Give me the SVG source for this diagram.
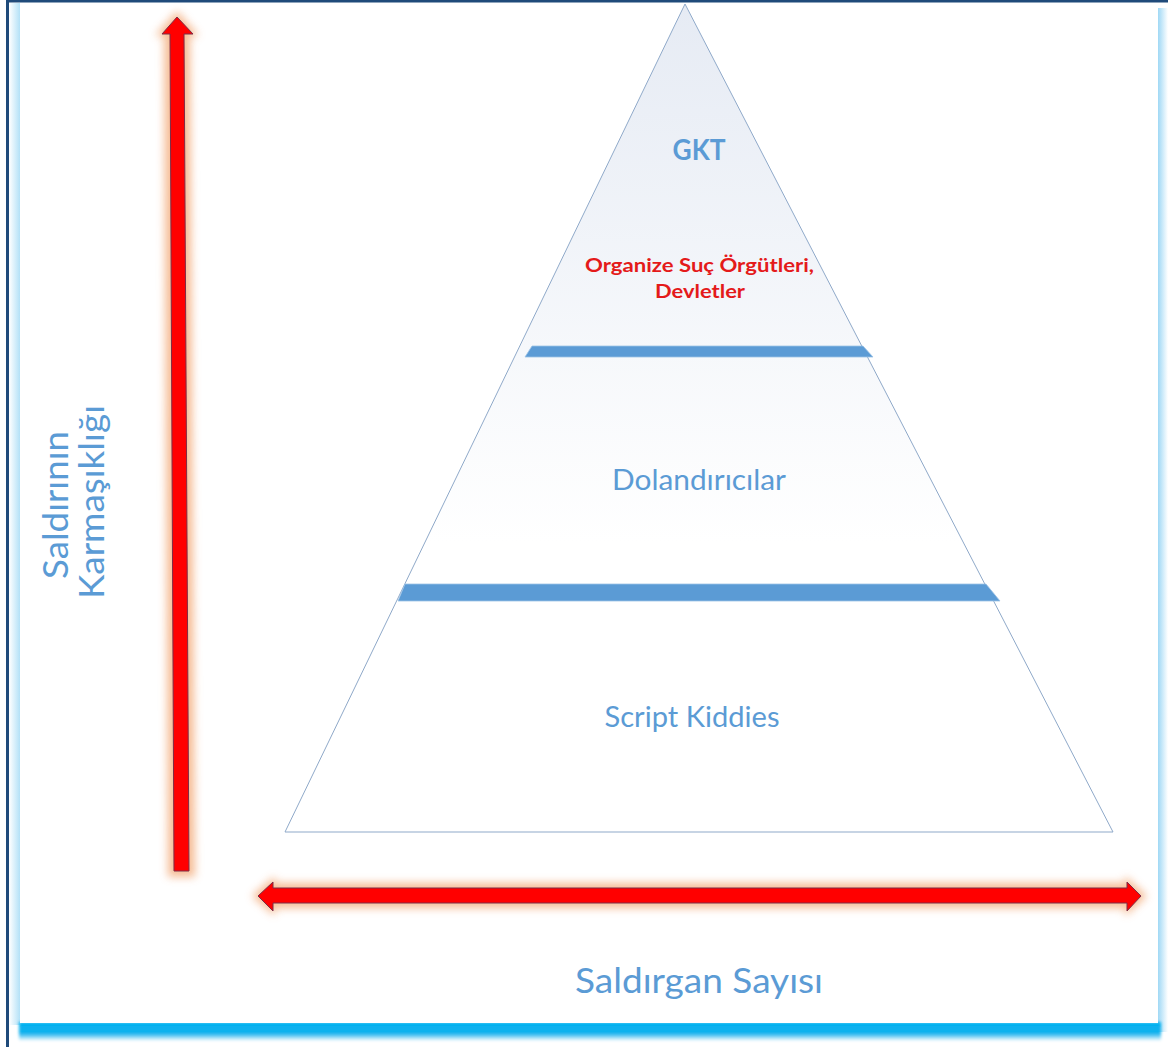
<svg xmlns="http://www.w3.org/2000/svg" width="1168" height="1047" viewBox="0 0 1168 1047">
  <defs>
    <style>
      .lbl { font-family: Lato, "Open Sans", "Liberation Sans", sans-serif; fill: #5b9bd5; }
      .bold { font-weight: bold; }
      .red { fill: #e41a1a; }
      .band { fill: #5b9bd5; stroke: #9dc3e6; stroke-width: 0.8; }
      .arrow { fill: #ff0000; stroke: #7d2c46; stroke-width: 1; stroke-linejoin: miter; }
      .glow { fill: #f4b183; opacity: 0.85; filter: url(#soft); }
    </style>
    <linearGradient id="pyrFill" x1="0" y1="0" x2="0" y2="1">
      <stop offset="0" stop-color="#e6ebf4"/>
      <stop offset="0.42" stop-color="#f6f8fb"/>
      <stop offset="0.65" stop-color="#ffffff"/>
      <stop offset="1" stop-color="#ffffff"/>
    </linearGradient>
    <linearGradient id="leftEdge" x1="0" y1="0" x2="1" y2="0">
      <stop offset="0" stop-color="#ffffff"/>
      <stop offset="1" stop-color="#b3e1f7"/>
    </linearGradient>
    <linearGradient id="rightEdge" x1="0" y1="0" x2="1" y2="0">
      <stop offset="0" stop-color="#9fd8f5"/>
      <stop offset="1" stop-color="#ffffff"/>
    </linearGradient>
    <linearGradient id="bottomFade" x1="0" y1="0" x2="0" y2="1">
      <stop offset="0" stop-color="#00b0f0"/>
      <stop offset="0.6" stop-color="#10b2ee"/>
      <stop offset="1" stop-color="#ffffff"/>
    </linearGradient>
    <filter id="soft" x="-20%" y="-20%" width="140%" height="140%">
      <feGaussianBlur stdDeviation="4"/>
    </filter>
    <filter id="edgeBlur" x="-5%" y="-50%" width="110%" height="200%">
      <feGaussianBlur stdDeviation="1.5"/>
    </filter>
  </defs>

  <!-- page frame with shadowed panel -->
  <g id="frame">
    <rect x="0" y="0" width="1168" height="1047" fill="#ffffff"/>
    <rect x="9" y="3" width="11" height="1022" fill="url(#leftEdge)"/>
    <rect x="1158" y="8" width="10" height="1024" fill="url(#rightEdge)"/>
    <rect x="19" y="1022" width="1142" height="19" fill="url(#bottomFade)" filter="url(#edgeBlur)"/>
    <rect x="20" y="3" width="1138" height="1020" fill="#ffffff"/>
    <rect x="6" y="0" width="1162" height="2.5" fill="#1f4a7a"/>
    <rect x="6" y="0" width="3" height="1047" fill="#1f4a7a"/>
  </g>

  <!-- pyramid body -->
  <g id="pyramid">
    <polygon points="685,4 1113,832 285,832" fill="url(#pyrFill)" stroke="#8fa9c9" stroke-width="1"/>
    <polygon class="band" points="532,346 863,346 873,357 525,357"/>
    <polygon class="band" points="405,584 986,584 1000,601 398,601"/>
  </g>

  <g id="tier-top">
    <text class="lbl bold" x="699" y="160" font-size="29" text-anchor="middle" textLength="53" lengthAdjust="spacingAndGlyphs">GKT</text>
    <text class="lbl bold red" x="699.5" y="272" font-size="19.5" text-anchor="middle" textLength="229" lengthAdjust="spacingAndGlyphs">Organize Suç Örgütleri,</text>
    <text class="lbl bold red" x="700" y="298" font-size="19.5" text-anchor="middle" textLength="90" lengthAdjust="spacingAndGlyphs">Devletler</text>
  </g>

  <g id="tier-middle">
    <text class="lbl" x="699" y="490" font-size="28" text-anchor="middle" textLength="174" lengthAdjust="spacingAndGlyphs">Dolandırıcılar</text>
  </g>

  <g id="tier-bottom">
    <text class="lbl" x="692" y="727" font-size="28" text-anchor="middle" textLength="175" lengthAdjust="spacingAndGlyphs">Script Kiddies</text>
  </g>

  <!-- axis arrows -->
  <g id="axes">
    <g id="axis-y">
      <polygon class="glow" points="177,11 199,36 190,36 195,877 168,877 164,36 155,36"/>
      <polygon class="arrow" points="177,17 193,34 184,34 189,871 174,871 170,34 162,34"/>
    </g>
    <g id="axis-x">
      <polygon class="glow" points="252,896 275,876 275,883 1125,883 1125,876 1147,896 1125,916 1125,908 275,908 275,916"/>
      <polygon class="arrow" points="258,896 273,882 273,888 1127,888 1127,882 1141,896 1127,911 1127,903 273,903 273,911"/>
    </g>
  </g>

  <g id="axis-labels">
    <text class="lbl" x="699" y="993" font-size="35" text-anchor="middle" textLength="248" lengthAdjust="spacingAndGlyphs">Saldırgan Sayısı</text>
    <text class="lbl" transform="translate(68,505) rotate(-90)" x="0" y="0" font-size="35" text-anchor="middle" textLength="148" lengthAdjust="spacingAndGlyphs">Saldırının</text>
    <text class="lbl" transform="translate(104,502) rotate(-90)" x="0" y="0" font-size="35" text-anchor="middle" textLength="194" lengthAdjust="spacingAndGlyphs">Karmaşıklığı</text>
  </g>
</svg>
